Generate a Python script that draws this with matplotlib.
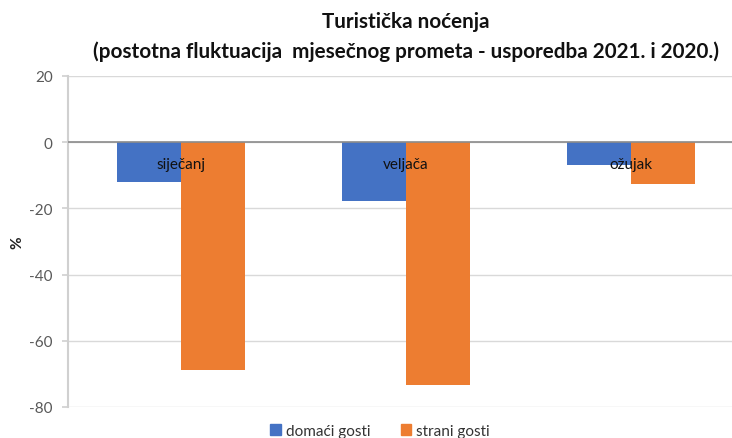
import matplotlib
matplotlib.use("Agg")
import matplotlib.pyplot as plt
import numpy as np
from matplotlib.patches import Patch

categories = ["siječanj", "veljača", "ožujak"]
domaci = [-12.1, -17.7, -7.0]
strani = [-68.9, -73.5, -12.6]
series_names = ["domaći gosti", "strani gosti"]
yticks = [-80, -60, -40, -20, 0, 20]

BLUE = "#4472C4"
ORANGE = "#ED7D31"
FONT = ["Lato", "DejaVu Sans"]
plt.rcParams['font.family'] = FONT

W, H = 732, 439
fig = plt.figure(figsize=(W/100, H/100), dpi=100)
left = 68/W
right = 743.5/W
bottom = 1 - 408/H
top = 1 - 77/H
ax = fig.add_axes([left, bottom, right-left, top-bottom])

x = np.arange(len(categories))
w = 64/225
ax.bar(x - w/2, domaci, width=w, color=BLUE, zorder=3)
ax.bar(x + w/2, strani, width=w, color=ORANGE, zorder=3)

ax.set_xlim(-0.5, 2.5)
ax.set_ylim(-80, 20)
ax.set_yticks(yticks)
ax.set_yticklabels([str(v) for v in yticks])
ax.yaxis.grid(True, color="#d9d9d9", linewidth=1, zorder=0)
ax.axhline(0, color="#8c8c8c", linewidth=1.2, zorder=4)
ax.set_xticks([])
for s in ["top", "right", "bottom"]:
    ax.spines[s].set_visible(False)
ax.spines["left"].set_color("#d0d0d0")
ax.spines["left"].set_linewidth(1.5)
ax.tick_params(axis="y", colors="#d0d0d0", labelcolor="#595959", labelsize=11,
               length=4, width=1.2, pad=7)

for i, c in enumerate(categories):
    ax.text(i, -6.55, c, ha="center", va="center", fontsize=11, color="#111111", zorder=5)

fig.text(17/W, 1 - 243/H, "%", rotation=90, ha="center", va="center",
         fontsize=11, fontweight="bold", color="#222222")

fig.text(406/W, 1 - 22/H, "Turistička noćenja", ha="center", va="center",
         fontsize=14.9, fontweight="bold", color="#111111")
fig.text(406/W, 1 - 52/H,
         "(postotna fluktuacija  mjesečnog prometa - usporedba 2021. i 2020.)",
         ha="center", va="center", fontsize=14.9, fontweight="bold", color="#111111")

handles = [Patch(color=BLUE), Patch(color=ORANGE)]
fig.legend(handles, series_names, loc="center", bbox_to_anchor=(380/W, 1 - 432/H),
           ncol=2, frameon=False, fontsize=11, handlelength=0.7, handleheight=0.7,
           handletextpad=0.3, columnspacing=2.0, labelcolor="#333333")

fig.savefig("out.png", dpi=100)
